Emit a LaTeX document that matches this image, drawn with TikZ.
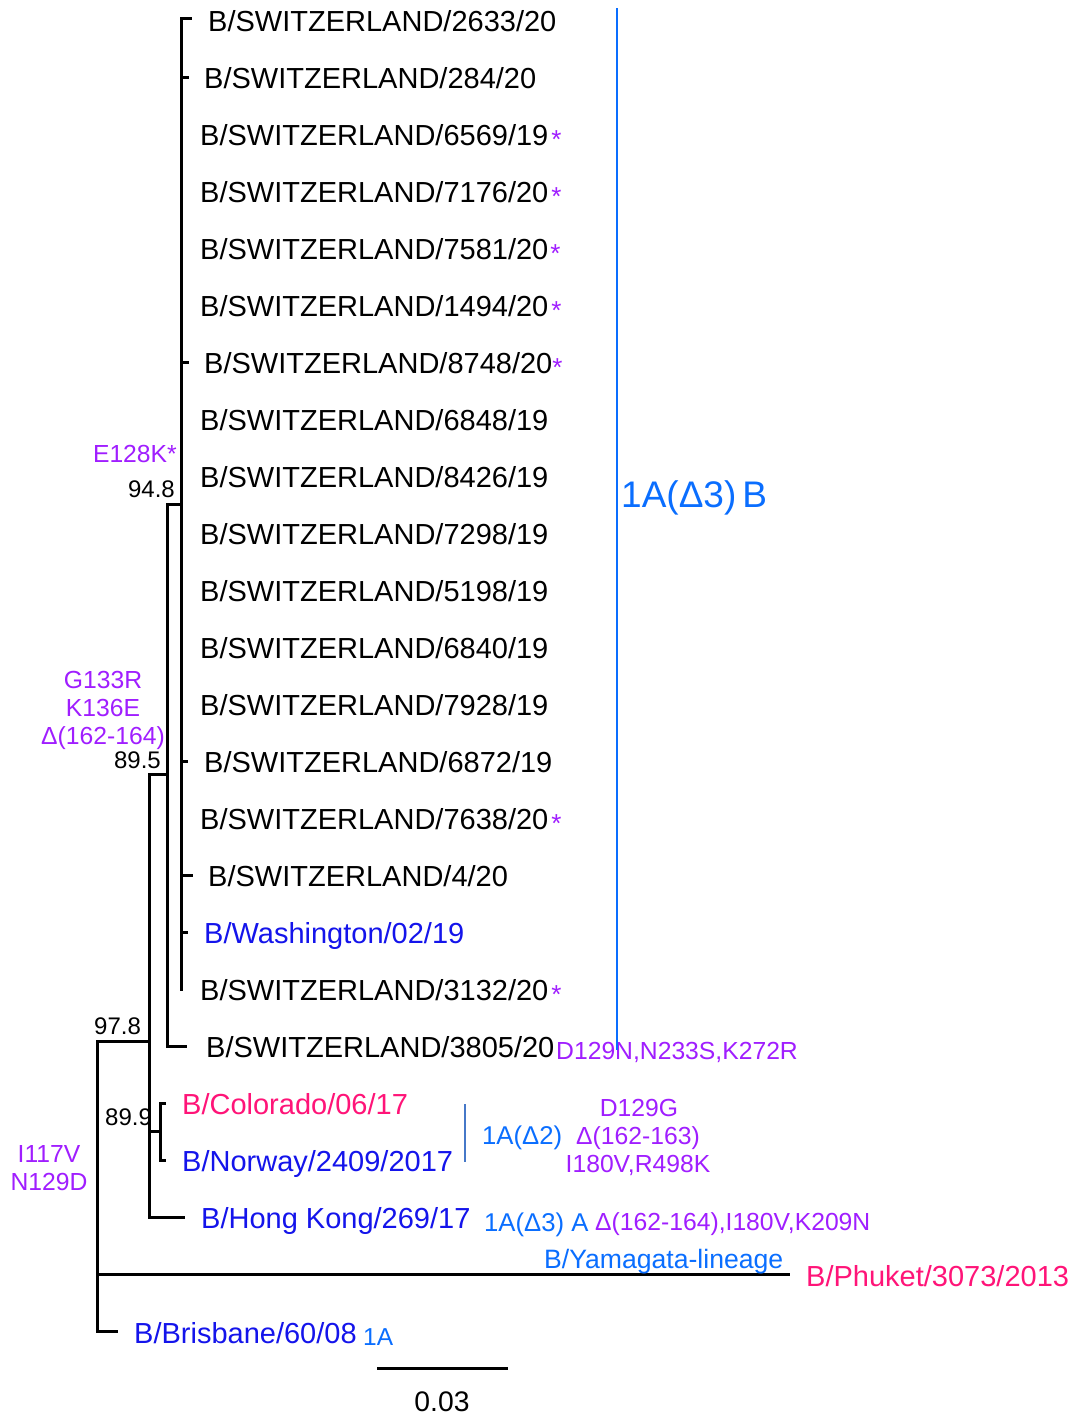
\documentclass[tikz,border=0pt]{standalone}
\usepackage{fontspec}
\setmainfont{Liberation Sans}
\definecolor{leafblue}{RGB}{20,20,235}
\definecolor{pinkc}{RGB}{255,20,120}
\definecolor{purp}{RGB}{160,30,255}
\definecolor{cladeblue}{RGB}{10,110,255}
\definecolor{lineblue}{RGB}{70,120,200}
\newcommand{\mstar}{\textcolor{purp}{\raisebox{-3pt}{\fontsize{26}{30}\selectfont *}}}
\begin{document}
\begin{tikzpicture}[x=1pt,y=-1pt,
  br/.style={line width=3pt,line cap=rect},
  leaf/.style={anchor=base west,inner sep=0pt,font=\fontsize{29}{34}\selectfont},
  ann/.style={inner sep=0pt,font=\fontsize{24.7}{29}\selectfont,text=purp},
  boot/.style={inner sep=0pt,font=\fontsize{24}{29}\selectfont},
  clade/.style={inner sep=0pt,font=\fontsize{25.7}{30}\selectfont,text=cladeblue}]
\useasboundingbox[fill=white] (0,0) rectangle (1073,1416);

% internal nodes
\coordinate (nR) at (97,1215);
\coordinate (nC) at (149,1041);
\coordinate (nB) at (167,774);
\coordinate (nA) at (181,504);
\coordinate (nCN) at (160,1131);

% leaf ends
\coordinate (e0) at (190,18);
\coordinate (e1) at (187,77);
\coordinate (e2) at (181,134);
\coordinate (e3) at (181,191);
\coordinate (e4) at (181,248);
\coordinate (e5) at (181,305);
\coordinate (e6) at (187,362);
\coordinate (e7) at (181,419);
\coordinate (e8) at (181,476);
\coordinate (e9) at (181,533);
\coordinate (e10) at (181,590);
\coordinate (e11) at (181,647);
\coordinate (e12) at (181,704);
\coordinate (e13) at (186,761);
\coordinate (e14) at (181,818);
\coordinate (e15) at (191,875);
\coordinate (e16) at (186,932);
\coordinate (e17) at (181,989);
\coordinate (e18) at (185,1046);
\coordinate (e19) at (164,1103);
\coordinate (e20) at (164,1160);
\coordinate (e21) at (183,1217);
\coordinate (e22) at (788,1274);
\coordinate (e23) at (116,1331);

% branches
\foreach \k in {0,...,17} {\draw[br] (nA) |- (e\k);}
\draw[br] (nB) |- (nA);
\draw[br] (nB) |- (e18);
\draw[br] (nC) |- (nB);
\draw[br] (nCN) |- (e19);
\draw[br] (nCN) |- (e20);
\draw[br] (nC) |- (nCN);
\draw[br] (nC) |- (e21);
\draw[br] (nR) |- (nC);
\draw[br] (nR) |- (e22);
\draw[br] (nR) |- (e23);

% leaf labels
\node[leaf] (l0) at (208,31) {B/SWITZERLAND/2633/20};
\node[leaf] (l1) at (204,88) {B/SWITZERLAND/284/20};
\node[leaf] (l2) at (200,145) {B/SWITZERLAND/6569/19\hspace{3pt}\mstar};
\node[leaf] (l3) at (200,202) {B/SWITZERLAND/7176/20\hspace{3pt}\mstar};
\node[leaf] (l4) at (200,259) {B/SWITZERLAND/7581/20\hspace{2pt}\mstar};
\node[leaf] (l5) at (200,316) {B/SWITZERLAND/1494/20\hspace{3pt}\mstar};
\node[leaf] (l6) at (204,373) {B/SWITZERLAND/8748/20\mstar};
\node[leaf] (l7) at (200,430) {B/SWITZERLAND/6848/19};
\node[leaf] (l8) at (200,487) {B/SWITZERLAND/8426/19};
\node[leaf] (l9) at (200,544) {B/SWITZERLAND/7298/19};
\node[leaf] (l10) at (200,601) {B/SWITZERLAND/5198/19};
\node[leaf] (l11) at (200,658) {B/SWITZERLAND/6840/19};
\node[leaf] (l12) at (200,715) {B/SWITZERLAND/7928/19};
\node[leaf] (l13) at (204,772) {B/SWITZERLAND/6872/19};
\node[leaf] (l14) at (200,829) {B/SWITZERLAND/7638/20\hspace{3pt}\mstar};
\node[leaf] (l15) at (208,886) {B/SWITZERLAND/4/20};
\node[leaf,text=leafblue] (l16) at (204,943) {B/Washington/02/19};
\node[leaf] (l17) at (200,1000) {B/SWITZERLAND/3132/20\hspace{3pt}\mstar};
\node[leaf] (l18) at (206,1057) {B/SWITZERLAND/3805/20};
\node[leaf,text=pinkc] (l19) at (182,1114) {B/Colorado/06/17};
\node[leaf,text=leafblue] (l20) at (182,1171) {B/Norway/2409/2017};
\node[leaf,text=leafblue] (l21) at (201,1228) {B/Hong Kong/269/17};
\node[leaf,text=pinkc] (l22) at (806,1286) {B/Phuket/3073/2013};
\node[leaf,text=leafblue] (l23) at (134,1343) {B/Brisbane/60/08};

% bootstrap values
\node[boot,anchor=base east] (b948) at (175,497) {94.8};
\node[boot,anchor=base east] (b895) at (161,768) {89.5};
\node[boot,anchor=base west] (b978) at (94,1034) {97.8};
\node[boot,anchor=base west] (b899) at (105,1125) {89.9};

% mutations
\node[ann,anchor=base east] (m1) at (177,462) {E128K*};
\node[ann,anchor=base] (m2a) at (103,688) {G133R};
\node[ann,anchor=base] (m2b) at (103,716) {K136E};
\node[ann,anchor=base] (m2c) at (103,744) {Δ(162-164)};
\node[ann,anchor=base] (m3a) at (49,1162) {I117V};
\node[ann,anchor=base] (m3b) at (49,1190) {N129D};
\node[ann,anchor=base west] (m4) at (556,1059) {D129N,N233S,K272R};
\node[ann,anchor=base] (m5a) at (639,1116) {D129G};
\node[ann,anchor=base] (m5b) at (638,1144) {Δ(162-163)};
\node[ann,anchor=base] (m5c) at (638,1172) {I180V,R498K};
\node[ann,anchor=base west] (m6) at (595,1230) {Δ(162-164),I180V,K209N};

% clade labels
\draw[cladeblue,line width=2pt] (617,8) -- (617,1050);
\node[inner sep=0pt,anchor=base west,text=cladeblue,font=\fontsize{37}{40}\selectfont] (cB) at (621,507) {1A(Δ3)\hspace{6pt}B};
\draw[lineblue,line width=2pt] (465,1104) -- (465,1162);
\node[clade,anchor=base west] (c2) at (482,1144) {1A(Δ2)};
\node[clade,anchor=base west] (c3A) at (484,1231) {1A(Δ3) A};
\node[clade,anchor=base west,font=\fontsize{26.6}{30}\selectfont] (cY) at (544,1268) {B/Yamagata-lineage};
\node[clade,anchor=base west,font=\fontsize{24.5}{29}\selectfont] (c1A) at (363,1345) {1A};

% scale bar
\coordinate (s0) at (377,1368);
\coordinate (s1) at (508,1368);
\draw[line width=3pt] (s0) -- (s1);
\node[inner sep=0pt,anchor=base,font=\fontsize{28.3}{33}\selectfont] (sl) at (442,1411) {0.03};
\end{tikzpicture}
\end{document}
